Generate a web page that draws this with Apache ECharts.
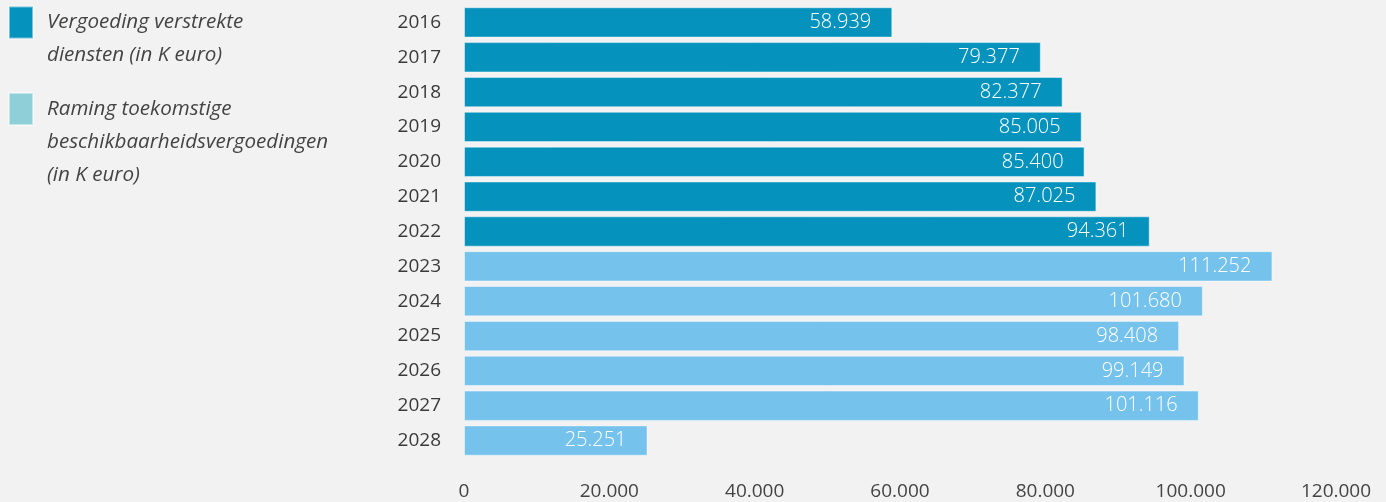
<!DOCTYPE html>
<html>
<head>
<meta charset="utf-8">
<script src="https://cdn.jsdelivr.net/npm/echarts@6/dist/echarts.min.js"></script>
<style>
  html, body { margin: 0; padding: 0; background: #f2f2f2; }
  #chart { width: 1386px; height: 502px; }
</style>
</head>
<body>
<div id="chart"></div>
<script>
// jaren en bedragen (in K euro)
const years = ['2016', '2017', '2018', '2019', '2020', '2021', '2022',
               '2023', '2024', '2025', '2026', '2027', '2028']
const realised = [58939, 79377, 82377, 85005, 85400, 87025, 94361,
                  '-', '-', '-', '-', '-', '-']
const forecast = ['-', '-', '-', '-', '-', '-', '-',
                  111252, 101680, 98408, 99149, 101116, 25251]
const xTicks = [0, 20000, 40000, 60000, 80000, 100000, 120000]

const nameA = 'Vergoeding verstrekte\ndiensten (in K euro)'
const nameB = 'Raming toekomstige\nbeschikbaarheidsvergoedingen\n(in K euro)'

const fmt = v => String(v).replace(/\B(?=(\d{3})+(?!\d))/g, '.')
const font = '"Open Sans", sans-serif'
const LH = 33

const chart = echarts.init(document.getElementById('chart'))

// legenda: blokje op hoogte van de eerste regel -> lege regels ervoor zetten
function legendBox(name, iconMid, color) {
    const lines = name.split('\n').length
    const pad = '\n'.repeat(lines - 1)
    const total = (2 * lines - 1) * LH
    return {
        orient: 'vertical',
        left: 8,
        top: iconMid - total / 2,
        padding: 0,
        itemWidth: 24,
        itemHeight: 32,
        icon: 'rect',
        selectedMode: false,
        data: [{ name: name, itemStyle: { color: color } }],
        formatter: n => pad + n,
        textStyle: {
            fontFamily: font,
            fontStyle: 'italic',
            fontSize: 20.6,
            color: '#444',
            lineHeight: LH,
            padding: [0, 0, 0, 9]
        }
    }
}

const barLabel = {
    show: true,
    position: 'insideRight',
    distance: 21,
    formatter: p => fmt(p.value),
    fontFamily: font,
    fontWeight: 300,
    fontSize: 20,
    color: '#fff'
}

chart.setOption({
    backgroundColor: '#f2f2f2',
    animation: false,
    legend: [
        legendBox(nameA, 22.5, '#0592bd'),
        legendBox(nameB, 109, '#8fd0d8')
    ],
    grid: { left: 464, right: 50, top: 5, bottom: 44 },
    xAxis: {
        type: 'value',
        min: xTicks[0],
        max: xTicks[xTicks.length - 1],
        interval: 20000,
        axisLine: { show: false },
        axisTick: { show: false },
        splitLine: { show: false },
        axisLabel: {
            formatter: fmt,
            margin: 24,
            fontFamily: font,
            fontSize: 19,
            color: '#444'
        }
    },
    yAxis: {
        type: 'category',
        data: years,
        inverse: true,
        axisLine: { show: false },
        axisTick: { show: false },
        axisLabel: {
            margin: 23,
            fontFamily: font,
            fontSize: 19,
            color: '#3a3a3a'
        }
    },
    series: [
        {
            name: nameA,
            type: 'bar',
            stack: 'all',
            data: realised,
            barCategoryGap: '13%',
            itemStyle: { color: '#0592bd', borderColor: 'rgba(255,255,255,0.45)', borderWidth: 1 },
            label: barLabel
        },
        {
            name: nameB,
            type: 'bar',
            stack: 'all',
            data: forecast,
            barCategoryGap: '13%',
            itemStyle: { color: '#75c2ec', borderColor: 'rgba(255,255,255,0.45)', borderWidth: 1 },
            label: barLabel
        }
    ]
})
</script>
</body>
</html>
